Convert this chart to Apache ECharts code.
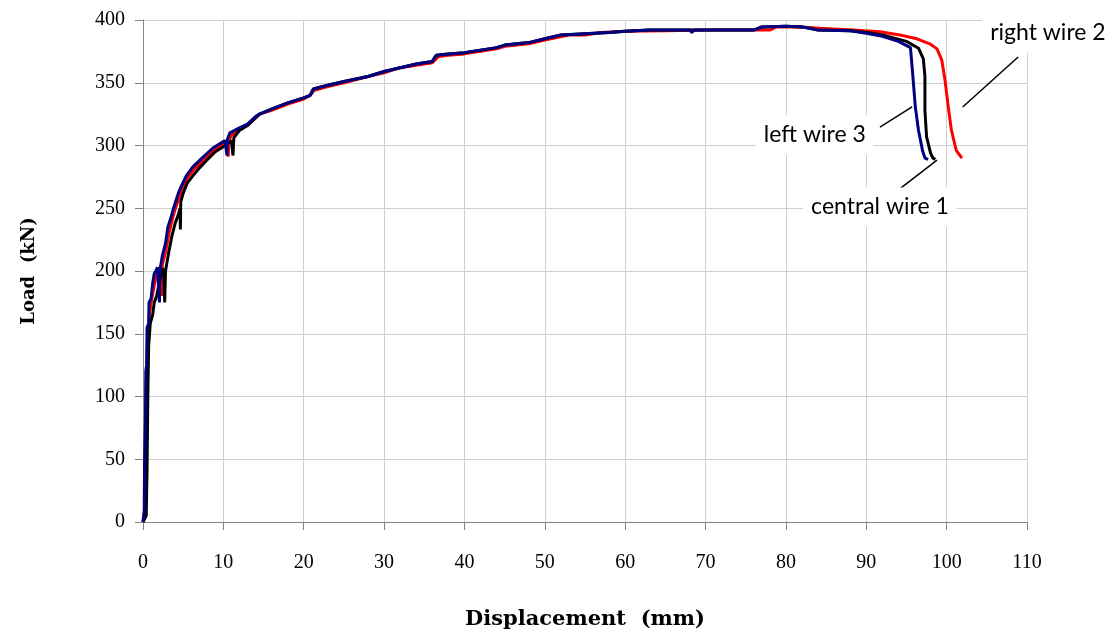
<!DOCTYPE html>
<html>
<head>
<meta charset="utf-8">
<script src="https://cdn.jsdelivr.net/npm/echarts@6/dist/echarts.min.js"></script>
<style>html,body{margin:0;padding:0;background:#fff}#c{width:1116px;height:639px}</style>
</head>
<body>
<div id="c"></div>
<script>
// Displacement (mm), Load (kN)
const rightWire2 = [
  [0,0],[0.2,10],[0.3,60],[0.4,110],[0.6,150],[0.8,165],[1.0,175],[1.3,185],[1.6,195],[1.9,200],
  [2.3,205],[2.35,180],[2.4,205],[2.8,215],[3.3,232],[3.8,245],[4.3,255],[4.8,265],[5.5,274],
  [6.5,282],[7.8,290],[9,297],[10.5,303],[10.6,291],[10.7,304],[11,308],[12,313],[13,316],
  [14,322],[14.5,325],[16,328],[18,333],[20,337],[20.8,340],[21.3,344],[23,347],[25,350],
  [28,355],[30,358],[32,362],[34,364],[36,366],[36.8,371],[38,372],[40,373],[42,375],[44,377],
  [45,379],[48,381],[50,384],[53,388],[55,388],[57,390],[60,391],[65,391.5],[70,392],[74,392],
  [78,392],[78.8,394.5],[82,394.5],[84.2,393.5],[88.4,392],[91.7,390.7],[94.2,388],[96.3,385],
  [97.9,381],[98.8,377],[99.4,368],[99.8,352],[100.2,331],[100.6,312],[101.2,296],[101.9,290]
];
const centralWire1 = [
  [0,0],[0.4,5],[0.5,40],[0.6,100],[0.7,140],[0.9,158],[1.2,165],[1.4,175],[1.7,180],[2.0,190],
  [2.4,200],[2.6,202],[2.7,175],[2.8,200],[3.2,215],[3.6,228],[4.0,238],[4.4,245],[4.6,250],
  [4.65,233],[4.7,255],[5.0,262],[5.5,270],[6.1,275],[7.0,282],[7.9,288],[9,295],[10.5,301],
  [11,304],[11.2,292],[11.3,306],[12,312],[13,316],[14,322],[14.5,325],[16,329],[18,334],
  [20,338],[20.8,340],[21.2,345],[23,348],[25,351],[28,355],[30,359],[32,362],[34,365],[36,367],
  [36.5,372],[38,373],[40,374],[42,376],[44,378],[45,380],[48,382],[50,385],[52,388],[55,389],
  [58,390],[60,391],[63,392],[68,392],[72,392],[76,392],[77,394.5],[80,395],[82,394.5],[84,392],
  [88,391.5],[90,390],[92,388],[95,383],[96.5,377.5],[97.1,369],[97.3,355],[97.3,328],[97.5,307],
  [98.0,294],[98.3,290],[98.6,289]
];
const leftWire3 = [
  [0,0],[0.15,8],[0.2,50],[0.3,80],[0.35,120],[0.45,125],[0.5,155],[0.7,158],[0.75,175],[1.0,178],
  [1.2,190],[1.4,198],[1.6,200],[1.8,203],[2.0,203],[2.05,175],[2.1,200],[2.4,212],[2.8,222],
  [3.1,235],[3.5,243],[3.8,250],[4.2,258],[4.4,262],[4.8,268],[5.4,276],[6.2,283],[7.5,291],
  [8.7,298],[10.2,304],[10.4,304],[10.45,292],[10.5,305],[10.8,310],[12,314],[13,317],[14,323],
  [14.5,325],[16,329],[18,334],[20,338],[20.8,340],[21.2,345],[23,348],[25,351],[28,355],[30,359],
  [32,362],[34,365],[36,367],[36.5,372],[38,373],[40,374],[42,376],[44,378],[45,380],[48,382],
  [50,385],[52,388],[55,389],[58,390],[60,391],[63,392],[68,392],[68.3,390],[68.6,392],[72,392],
  [76,392],[77,394.5],[80,395],[82,394.5],[84,392],[88,391.5],[90,389.5],[92,387],[94,383],
  [95.5,378],[95.8,355],[96.1,331],[96.5,312],[97,296],[97.3,290],[97.7,289]
];
const seriesNames = ['right wire 2', 'central wire 1', 'left wire 3'];
const xTitle = 'Displacement  (mm)';
const yTitle = 'Load  (kN)';

// annotation text anchors and leader lines in data coordinates
const annotations = [
  { text: 'right wire 2', at: [112.6, 389.6], line: [[108.9, 370.5], [102.0, 330.7]] },
  { text: 'left wire 3', at: [83.6, 308.4], line: [[91.7, 314.7], [95.7, 330.7]] },
  { text: 'central wire 1', at: [91.7, 251], line: [[93.2, 260.6], [98.8, 288.4]] }
];

const chart = echarts.init(document.getElementById('c'), null, { renderer: 'canvas' });
const axisCommon = {
  axisLine: { show: true, lineStyle: { color: '#868686', width: 1 } },
  axisTick: { show: true, inside: false, length: 8, lineStyle: { color: '#868686' } },
  splitLine: { show: true, lineStyle: { color: '#d0d0d0', width: 1 } },
  nameLocation: 'middle'
};
chart.setOption({
  animation: false,
  backgroundColor: '#fff',
  grid: { left: 143, right: 89, top: 20, bottom: 117, containLabel: false },
  xAxis: Object.assign({}, axisCommon, {
    type: 'value', min: 0, max: 110, interval: 10,
    name: xTitle, nameGap: 87,
    nameTextStyle: { fontFamily: 'DejaVu Serif', fontWeight: 'bold', fontSize: 21, color: '#000' },
    axisLabel: { fontFamily: 'Liberation Serif', fontSize: 20, color: '#000', margin: 31 }
  }),
  yAxis: Object.assign({}, axisCommon, {
    type: 'value', min: 0, max: 400, interval: 50,
    name: yTitle, nameGap: 105,
    nameTextStyle: { fontFamily: 'DejaVu Serif', fontWeight: 'bold', fontSize: 18, color: '#000' },
    axisLabel: { fontFamily: 'Liberation Serif', fontSize: 20, color: '#000', margin: 18 }
  }),
  series: [
    { name: seriesNames[0], type: 'line', data: rightWire2, showSymbol: false, symbol: 'none',
      lineStyle: { color: '#ff0000', width: 3 }, z: 2 },
    { name: seriesNames[1], type: 'line', data: centralWire1, showSymbol: false, symbol: 'none',
      lineStyle: { color: '#000000', width: 3 }, z: 3 },
    { name: seriesNames[2], type: 'line', data: leftWire3, showSymbol: false, symbol: 'none',
      lineStyle: { color: '#000080', width: 3 }, z: 4 }
  ]
});

const g = [];
annotations.forEach(a => {
  const p1 = chart.convertToPixel({ gridIndex: 0 }, a.line[0]);
  const p2 = chart.convertToPixel({ gridIndex: 0 }, a.line[1]);
  g.push({ type: 'line', shape: { x1: p1[0], y1: p1[1], x2: p2[0], y2: p2[1] },
           style: { stroke: '#000', lineWidth: 1.5 }, z: 10 });
  const t = chart.convertToPixel({ gridIndex: 0 }, a.at);
  g.push({ type: 'text', x: t[0], y: t[1], z: 11,
           style: { text: a.text, fontFamily: 'Lato', fontSize: 23, fill: '#000',
                    align: 'center', verticalAlign: 'middle',
                    backgroundColor: '#fff', padding: [8, 8] } });
});
chart.setOption({ graphic: g });
</script>
</body>
</html>
